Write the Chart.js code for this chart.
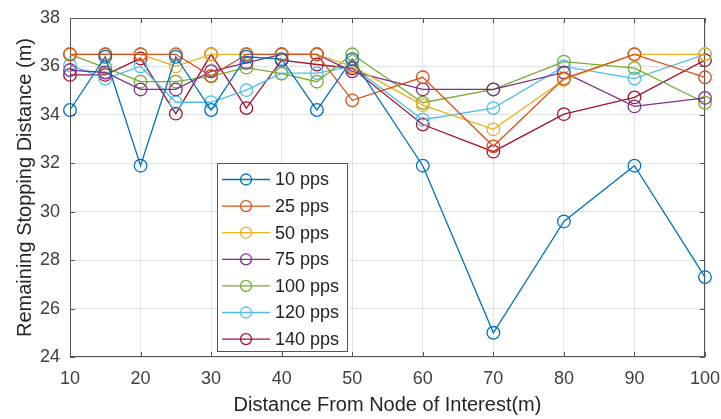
<!DOCTYPE html>
<html>
<head>
<meta charset="utf-8">
<script src="https://cdn.jsdelivr.net/npm/chart.js@4/dist/chart.umd.min.js"></script>
<style>
  html, body { margin: 0; padding: 0; background: #fff; }
  #wrap { width: 721px; height: 419px; }
</style>
</head>
<body>
<div id="wrap"><canvas id="myChart"></canvas></div>
<script>
// distances (x) where each rate was measured
const distances = [10, 15, 20, 25, 30, 35, 40, 45, 50, 60, 70, 80, 90, 100];
const xTicks = [10, 20, 30, 40, 50, 60, 70, 80, 90, 100];
const yTicks = [24, 26, 28, 30, 32, 34, 36, 38];

const seriesNames = ["10 pps", "25 pps", "50 pps", "75 pps", "100 pps", "120 pps", "140 pps"];
const pps10  = [34.2, 36.4, 31.9, 36.4, 34.2, 36.4, 36.3, 34.2, 36.3, 31.9, 25.0, 29.6, 31.9, 27.3];
const pps25  = [36.5, 36.5, 36.5, 36.5, 35.6, 36.5, 36.5, 36.5, 34.6, 35.55, 32.7, 35.5, 36.5, 35.55];
const pps50  = [36.5, 36.5, 36.5, 36.0, 36.5, 36.5, 36.5, 36.5, 36.0, 34.4, 33.4, 35.45, 36.5, 36.5];
const pps75  = [35.85, 35.75, 35.05, 35.05, 35.8, 36.15, 36.5, 36.5, 35.8, 35.05, 35.05, 35.75, 34.35, 34.7];
const pps100 = [36.5, 35.95, 35.37, 35.37, 35.6, 35.95, 35.7, 35.37, 36.5, 34.5, 35.05, 36.2, 35.93, 34.5];
const pps120 = [36.05, 35.5, 36.0, 34.52, 34.52, 35.02, 35.72, 35.72, 36.0, 33.8, 34.28, 36.0, 35.5, 36.5];
const pps140 = [35.65, 35.65, 36.33, 34.05, 36.5, 34.28, 36.26, 36.08, 35.92, 33.6, 32.48, 34.03, 34.72, 36.26];

const allSeries = [pps10, pps25, pps50, pps75, pps100, pps120, pps140];
const colors = ["#0072BD", "#D95319", "#EDB120", "#7E2F8E", "#77AC30", "#4DBEEE", "#A2142F"];

const textColor = "#404040";
const fontFamily = "'Liberation Sans', Arial, sans-serif";

// box with inward ticks, matlab style
const boxPlugin = {
  id: "box",
  beforeDatasetsDraw(chart) {
    const { ctx, chartArea: a, scales } = chart;
    ctx.save();
    ctx.strokeStyle = "#555";
    ctx.lineWidth = 1;
    ctx.strokeRect(a.left + 0.5, a.top + 0.5, a.right - a.left - 1, a.bottom - a.top - 1);
    ctx.beginPath();
    xTicks.forEach((t) => {
      const x = Math.round(scales.x.getPixelForValue(t)) + 0.5;
      ctx.moveTo(x, a.bottom); ctx.lineTo(x, a.bottom - 5);
      ctx.moveTo(x, a.top); ctx.lineTo(x, a.top + 5);
    });
    yTicks.forEach((t) => {
      const y = Math.round(scales.y.getPixelForValue(t)) + 0.5;
      ctx.moveTo(a.left, y); ctx.lineTo(a.left + 5, y);
      ctx.moveTo(a.right, y); ctx.lineTo(a.right - 5, y);
    });
    ctx.stroke();
    ctx.restore();
  },
};

// legend box inside the plot
const legendPlugin = {
  id: "boxLegend",
  afterDraw(chart) {
    const { ctx, chartArea: a } = chart;
    const left = a.left + 147, top = a.top + 145, w = 130, h = 188;
    ctx.save();
    ctx.fillStyle = "#fff";
    ctx.fillRect(left, top, w, h);
    ctx.strokeStyle = "#555";
    ctx.lineWidth = 1;
    ctx.strokeRect(left + 0.5, top + 0.5, w, h);
    ctx.font = "18px " + fontFamily;
    ctx.textBaseline = "middle";
    chart.data.datasets.forEach((ds, i) => {
      const y = top + 16.5 + i * 26.6;
      ctx.strokeStyle = ds.borderColor;
      ctx.lineWidth = 1.3;
      ctx.beginPath();
      ctx.moveTo(left + 5, y); ctx.lineTo(left + 53, y);
      ctx.stroke();
      ctx.beginPath();
      ctx.arc(left + 29, y, 5.5, 0, Math.PI * 2);
      ctx.stroke();
      ctx.fillStyle = "#222";
      ctx.fillText(ds.label, left + 58, y + 1);
    });
    ctx.restore();
  },
};

new Chart(document.getElementById("myChart"), {
  type: "line",
  data: {
    datasets: allSeries.map((vals, i) => ({
      label: seriesNames[i],
      data: distances.map((d, j) => ({ x: d, y: vals[j] })),
      borderColor: colors[i],
      backgroundColor: "rgba(0,0,0,0)",
      borderWidth: 1.3,
      pointRadius: 6.3,
      pointBorderWidth: 1.3,
      pointBackgroundColor: "rgba(0,0,0,0)",
      pointBorderColor: colors[i],
      tension: 0,
      clip: false,
    })),
  },
  options: {
    responsive: true,
    maintainAspectRatio: false,
    animation: false,
    layout: { padding: { top: 18, right: 16, left: 0, bottom: 0 } },
    plugins: {
      legend: { display: false },
      tooltip: { enabled: false },
    },
    scales: {
      x: {
        type: "linear",
        min: 10,
        max: 100,
        afterBuildTicks: (s) => { s.ticks = xTicks.map((v) => ({ value: v })); },
        afterFit: (s) => { s.height = 62; s.paddingLeft = 0; s.paddingRight = 0; },
        grid: { color: "#e3e3e3", drawTicks: false },
        border: { display: false },
        ticks: { color: textColor, font: { size: 18, family: fontFamily }, padding: 11, maxRotation: 0 },
        title: {
          display: true,
          text: "Distance From Node of Interest(m)",
          color: "#262626",
          font: { size: 20, family: fontFamily },
          padding: { top: 0, bottom: 2 },
        },
      },
      y: {
        min: 24,
        max: 38,
        afterBuildTicks: (s) => { s.ticks = yTicks.map((v) => ({ value: v })); },
        afterFit: (s) => { s.width = 70; s.paddingTop = 0; s.paddingBottom = 0; },
        grid: { color: "#e3e3e3", drawTicks: false },
        border: { display: false },
        ticks: { color: textColor, font: { size: 18, family: fontFamily }, padding: 10 },
        title: {
          display: true,
          text: "Remaining Stopping Distance (m)",
          color: "#262626",
          font: { size: 20, family: fontFamily },
          padding: { top: 13, bottom: 0 },
        },
      },
    },
  },
  plugins: [boxPlugin, legendPlugin],
});
</script>
</body>
</html>
